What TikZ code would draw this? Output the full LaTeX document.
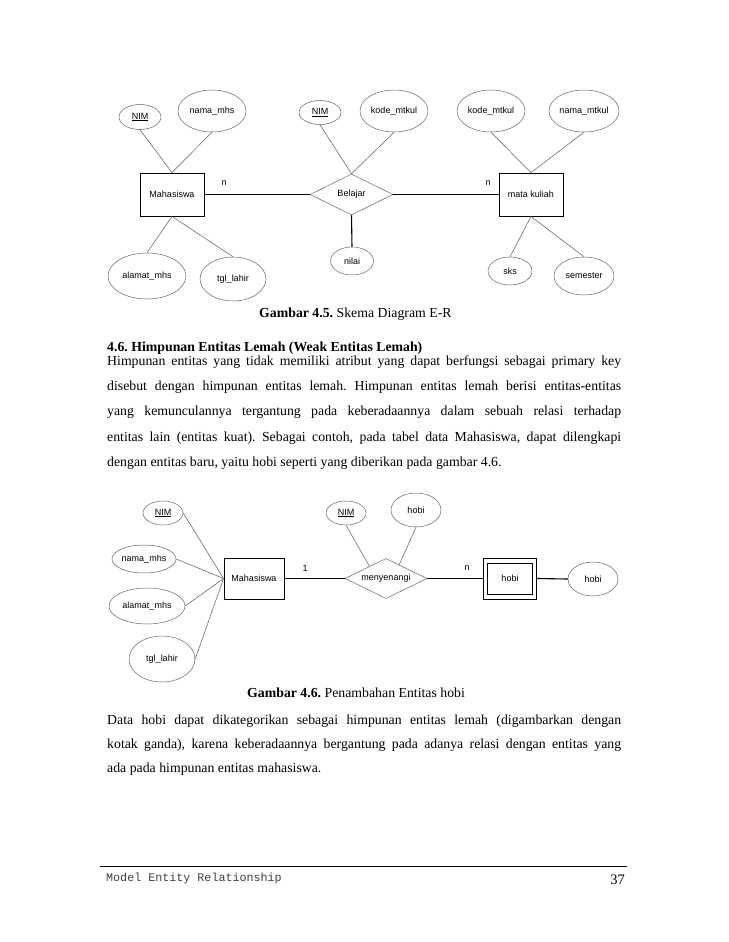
\documentclass[tikz,border=0pt]{standalone}
\usepackage{fontspec}
\setmainfont{Liberation Serif}
\setsansfont{Liberation Sans}
\setmonofont{Liberation Mono}
\usetikzlibrary{shapes.geometric,calc}
\frenchspacing
\begin{document}
\begin{tikzpicture}[x=1pt,y=-1pt,
  dfont/.style={font=\sffamily\fontsize{9}{10}\selectfont},
  attr/.style={ellipse, draw=black!60, line width=0.5pt, inner sep=0pt, dfont},
  ent/.style={rectangle, draw=black, line width=0.9pt, inner sep=0pt, dfont},
  rel/.style={diamond, draw=black!60, line width=0.5pt, inner sep=0pt, aspect=2, dfont},
  thinln/.style={draw=black!65, line width=0.5pt},
  thickln/.style={draw=black, line width=1.1pt},
  card/.style={inner sep=0pt, dfont},
  bodytext/.style={anchor=base west, inner sep=0pt, font=\fontsize{13.8}{16}\selectfont},
]
\fill[white] (0,0) rectangle (728,942);
\path[use as bounding box] (0,0) rectangle (728,942);

% ---------- Figure 4.5 ----------
\node[attr, minimum width=42pt, minimum height=25pt] (nim1) at (140,117) {\underline{NIM}};
\node[attr, minimum width=68pt, minimum height=42pt] (nmhs1) at (212,111) {nama\_mhs};
\node[ent, minimum width=64pt, minimum height=43pt] (mhs1) at (172,194.5) {Mahasiswa};
\node[attr, minimum width=78pt, minimum height=46pt] (alm1) at (147,276) {alamat\_mhs};
\node[attr, minimum width=66pt, minimum height=44pt] (tgl1) at (233,279) {tgl\_lahir};

\node[attr, minimum width=42pt, minimum height=24pt] (nim2) at (320,112.5) {\underline{NIM}};
\node[attr, minimum width=68pt, minimum height=42pt] (kode1) at (394,111) {kode\_mtkul};
\node[rel, minimum width=83pt, minimum height=41pt] (bel) at (351.5,194.5) {Belajar};
\node[attr, minimum width=43pt, minimum height=28pt] (nilai) at (352,261) {nilai};

\node[ent, minimum width=64pt, minimum height=43pt] (mk) at (531,194.5) {mata kuliah};
\node[attr, minimum width=68pt, minimum height=42pt] (kode2) at (491,111) {kode\_mtkul};
\node[attr, minimum width=70pt, minimum height=42pt] (nmtk) at (584,111) {nama\_mtkul};
\node[attr, minimum width=44pt, minimum height=28pt] (sks) at (510,271) {sks};
\node[attr, minimum width=60pt, minimum height=38pt] (sem) at (584,276) {semester};

\node[card] (n1) at (224,183) {n};
\node[card] (n2) at (488,183) {n};

\draw[thinln] (nim1.south) -- (mhs1.north);
\draw[thinln] (nmhs1.south) -- (mhs1.north);
\draw[thinln] (mhs1.south) -- (alm1.north);
\draw[thinln] (mhs1.south) -- (tgl1.north);
\draw[thinln] (nim2.south) -- (bel.north);
\draw[thinln] (kode1.south) -- (bel.north);
\draw[thickln] (bel.south) -- (nilai.north);
\draw[thickln] (mhs1.east) -- (bel.west);
\draw[thickln] (bel.east) -- (mk.west);
\draw[thinln] (kode2.south) -- (mk.north);
\draw[thinln] (nmtk.south) -- (mk.north);
\draw[thinln] (mk.south) -- (sks.north);
\draw[thinln] (mk.south) -- (sem.north);

\node[bodytext] (cap45) at (259,317) {\textbf{Gambar 4.5.} Skema Diagram E-R};

% ---------- Text ----------
\node[bodytext] (h46) at (107,351) {\textbf{4.6. Himpunan Entitas Lemah (Weak Entitas Lemah)}};
\node[bodytext] (pa1) at (107,365.5) {\makebox[514pt][s]{Himpunan entitas yang tidak memiliki atribut yang dapat berfungsi sebagai primary key}};
\node[bodytext] (pa2) at (107,390.7) {\makebox[514pt][s]{disebut dengan himpunan entitas lemah. Himpunan entitas lemah berisi entitas-entitas}};
\node[bodytext] (pa3) at (107,415.9) {\makebox[514pt][s]{yang kemunculannya tergantung pada keberadaannya dalam sebuah relasi terhadap}};
\node[bodytext] (pa4) at (107,441.1) {\makebox[514pt][s]{entitas lain (entitas kuat). Sebagai contoh, pada tabel data Mahasiswa, dapat dilengkapi}};
\node[bodytext] (pa5) at (107,466.3) {dengan entitas baru, yaitu hobi seperti yang diberikan pada gambar 4.6.};

% ---------- Figure 4.6 ----------
\node[attr, minimum width=40pt, minimum height=24pt] (nim3) at (163,513) {\underline{NIM}};
\node[attr, minimum width=64pt, minimum height=28pt] (nmhs2) at (144,559) {nama\_mhs};
\node[attr, minimum width=76pt, minimum height=36pt] (alm2) at (147,606) {alamat\_mhs};
\node[attr, minimum width=66pt, minimum height=46pt] (tgl2) at (162,659) {tgl\_lahir};
\node[ent, minimum width=60pt, minimum height=41pt] (mhs2) at (254,578.5) {Mahasiswa};

\node[rel, minimum width=82pt, minimum height=40pt] (meny) at (386,578.5) {menyenangi};
\node[attr, minimum width=40pt, minimum height=24pt] (nim4) at (346,513) {\underline{NIM}};
\node[attr, minimum width=50pt, minimum height=34pt] (hobi1) at (416,510) {hobi};
\node[ent, minimum width=53pt, minimum height=41pt] (hobi2) at (509.7,578.5) {};
\node[ent, minimum width=45pt, minimum height=31.5pt] (hobi2in) at (510,578.7) {hobi};
\node[attr, minimum width=50pt, minimum height=34pt] (hobi3) at (593,579) {hobi};

\node[card] (c1) at (305,568) {1};
\node[card] (c2) at (467,568) {n};

\draw[thinln] (nim3.east) -- (mhs2.west);
\draw[thinln] (nmhs2.east) -- (mhs2.west);
\draw[thinln] (alm2.east) -- (mhs2.west);
\draw[thinln] (tgl2.east) -- (mhs2.west);
\draw[thickln] (mhs2.east) -- (meny.west);
\draw[thinln] (nim4.south) -- ($(meny.west)!0.6!(meny.north)$);
\draw[thinln] (hobi1.south) -- ($(meny.north)!0.32!(meny.east)$);
\draw[thickln] (meny.east) -- (hobi2.west);
\draw[thickln] (hobi2.east) -- (hobi3.west);

\node[bodytext] (cap46) at (247,697) {\textbf{Gambar 4.6.} Penambahan Entitas hobi};

\node[bodytext] (pb1) at (107,724) {\makebox[514pt][s]{Data hobi dapat dikategorikan sebagai himpunan entitas lemah (digambarkan dengan}};
\node[bodytext] (pb2) at (107,748) {\makebox[514pt][s]{kotak ganda), karena keberadaannya bergantung pada adanya relasi dengan entitas yang}};
\node[bodytext] (pb3) at (107,772) {ada pada himpunan entitas mahasiswa.};

% ---------- Footer ----------
\coordinate (fl) at (100,866.5);
\coordinate (fr) at (627,866.5);
\draw[black, line width=0.9pt] (fl) -- (fr);
\node[anchor=base west, inner sep=0pt, text=black!75, font=\ttfamily\fontsize{11.7}{13}\selectfont] (foot) at (106,881) {Model Entity Relationship};
\node[anchor=base east, inner sep=0pt, font=\fontsize{14.5}{16}\selectfont] (pg) at (625,884) {37};
\end{tikzpicture}
\end{document}
